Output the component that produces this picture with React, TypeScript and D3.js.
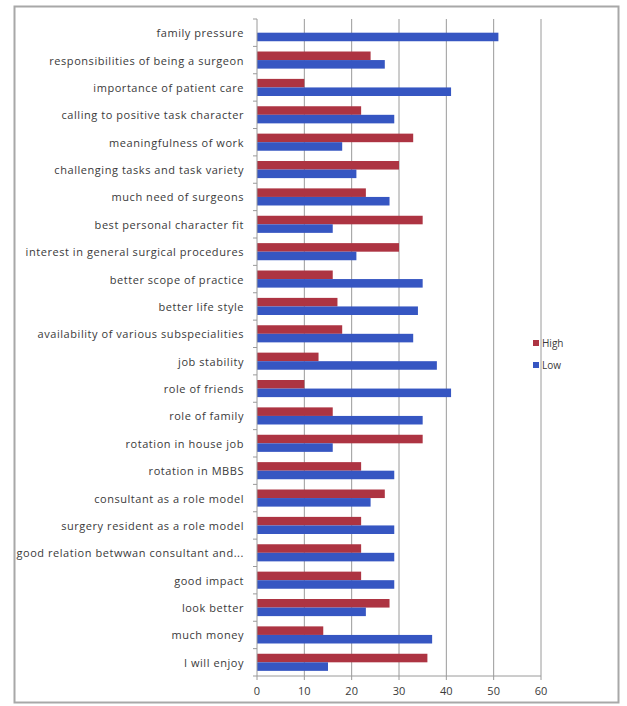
import React from "react";
import * as d3 from "d3";

// Reasons for choosing surgery, rated by "High" and "Low" groups
const categories: string[] = [
  "family pressure",
  "responsibilities of being a surgeon",
  "importance of patient care",
  "calling to positive task character",
  "meaningfulness of work",
  "challenging tasks and task variety",
  "much need of surgeons",
  "best personal character fit",
  "interest in general surgical procedures",
  "better scope of practice",
  "better life style",
  "availability of various subspecialities",
  "job stability",
  "role of friends",
  "role of family",
  "rotation in house job",
  "rotation in MBBS",
  "consultant as a role model",
  "surgery resident as a role model",
  "good relation betwwan consultant and...",
  "good impact",
  "look better",
  "much money",
  "I will enjoy",
];

const highValues: number[] = [
  0, 24, 10, 22, 33, 30, 23, 35, 30, 16, 17, 18, 13, 10, 16, 35, 22, 27, 22, 22, 22, 28, 14, 36,
];

const lowValues: number[] = [
  51, 27, 41, 29, 18, 21, 28, 16, 21, 35, 34, 33, 38, 41, 35, 16, 29, 24, 29, 29, 29, 23, 37, 15,
];

const xTicks: number[] = [0, 10, 20, 30, 40, 50, 60];

const seriesNames: string[] = ["High", "Low"];
const seriesColors: string[] = ["#ad3442", "#3656c2"];

const W = 627;
const H = 706;

export default function App() {
  const plotLeft = 257;
  const plotRight = 541;
  const plotTop = 19;
  const plotBottom = 676;

  const x = d3.scaleLinear().domain([0, 60]).range([plotLeft, plotRight]);
  const y = d3
    .scaleBand<string>()
    .domain(categories)
    .range([plotTop, plotBottom])
    .paddingInner(0)
    .paddingOuter(0);
  const inner = d3
    .scaleBand<string>()
    .domain(seriesNames)
    .range([0, y.bandwidth()])
    .paddingInner(0)
    .paddingOuter(0.6);

  const font = "'Open Sans', 'Liberation Sans', Arial, sans-serif";
  const series = [highValues, lowValues];

  return (
    <svg
      width={W}
      height={H}
      style={{ position: "absolute", left: 0, top: 0, background: "#fff" }}
      fontFamily={font}
    >
      <rect x={0} y={0} width={W} height={H} fill="#fff" />
      {/* chart frame */}
      <rect x={14.5} y={6.5} width={604} height={696} fill="none" stroke="#a8a8a8" strokeWidth={2} />

      {/* vertical gridlines */}
      {xTicks.slice(1).map((t) => (
        <line
          key={"g" + t}
          x1={x(t)}
          x2={x(t)}
          y1={plotTop}
          y2={plotBottom}
          stroke="#9a9a9a"
          strokeWidth={1}
        />
      ))}

      {/* bars */}
      {categories.map((c, i) => (
        <g key={c}>
          {series.map((vals, s) =>
            vals[i] > 0 ? (
              <rect
                key={s}
                x={x(0)}
                y={(y(c) as number) + (inner(seriesNames[s]) as number)}
                width={x(vals[i]) - x(0)}
                height={inner.bandwidth()}
                fill={seriesColors[s]}
              />
            ) : null
          )}
        </g>
      ))}

      {/* category axis */}
      <line x1={plotLeft} x2={plotLeft} y1={plotTop} y2={plotBottom} stroke="#9a9a9a" />
      {categories.map((c) => (
        <line
          key={"t" + c}
          x1={plotLeft - 4}
          x2={plotLeft}
          y1={y(c) as number}
          y2={y(c) as number}
          stroke="#9a9a9a"
        />
      ))}
      <line x1={plotLeft - 4} x2={plotLeft} y1={plotBottom} y2={plotBottom} stroke="#9a9a9a" />
      {categories.map((c) => (
        <text
          key={"l" + c}
          x={244}
          y={(y(c) as number) + y.bandwidth() / 2}
          textAnchor="end"
          dominantBaseline="central"
          fontSize={11}
          letterSpacing={0.55}
          fill="#3a3a3a"
        >
          {c}
        </text>
      ))}

      {/* value axis */}
      <line x1={plotLeft} x2={plotRight} y1={plotBottom} y2={plotBottom} stroke="#9a9a9a" />
      {xTicks.map((t) => (
        <g key={"x" + t}>
          <line x1={x(t)} x2={x(t)} y1={plotBottom} y2={plotBottom + 4} stroke="#9a9a9a" />
          <text
            x={x(t)}
            y={plotBottom + 14}
            textAnchor="middle"
            dominantBaseline="central"
            fontSize={11}
            fill="#3a3a3a"
          >
            {t}
          </text>
        </g>
      ))}

      {/* legend */}
      {seriesNames.map((n, s) => (
        <g key={"lg" + n} transform={`translate(533, ${343 + s * 22})`}>
          <rect x={0} y={-3} width={6} height={6} fill={seriesColors[s]} />
          <text x={9} y={0} dominantBaseline="central" fontSize={10} fill="#3a3a3a">
            {n}
          </text>
        </g>
      ))}
    </svg>
  );
}
